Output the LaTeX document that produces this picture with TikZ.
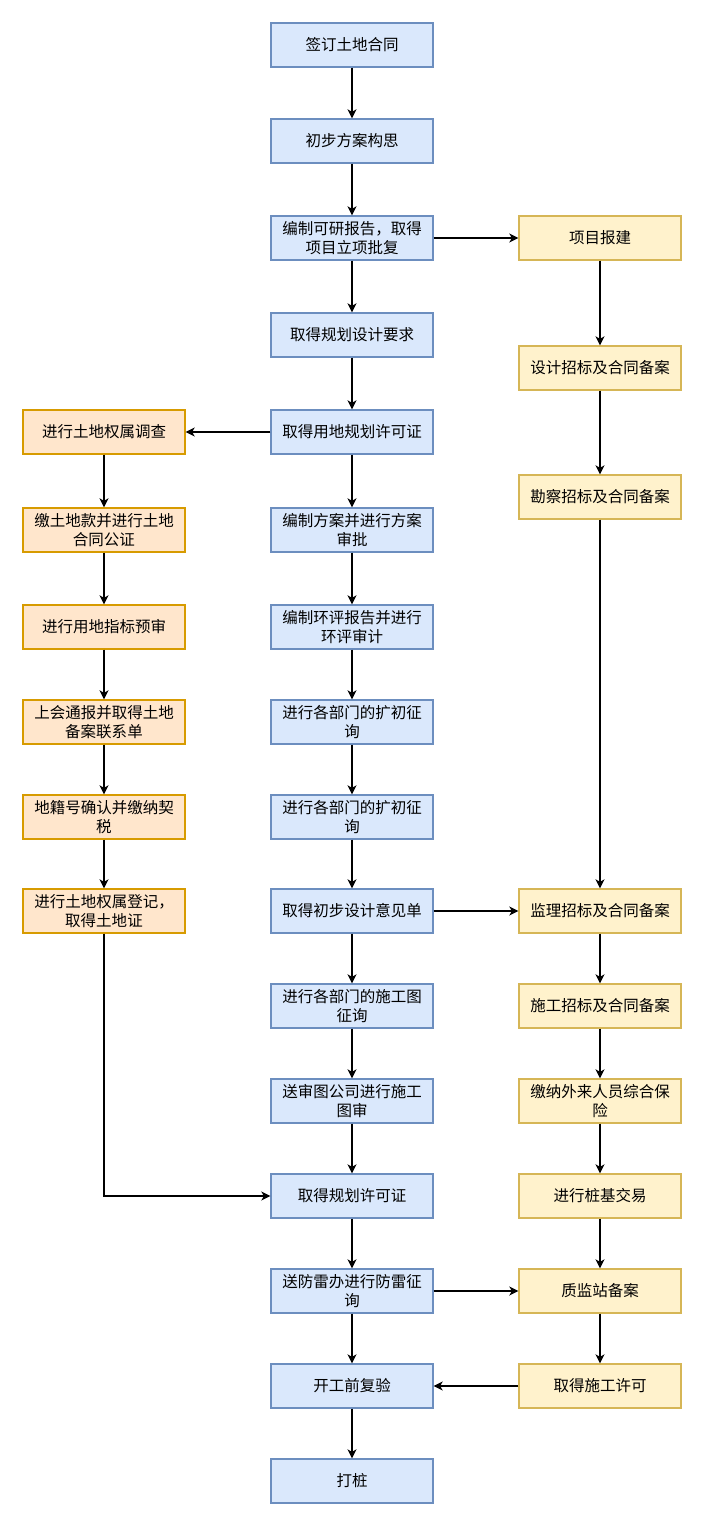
\documentclass[tikz,border=0pt]{standalone}
\usepackage{fontspec}
\setmainfont{Noto Sans CJK SC}
\usetikzlibrary{arrows.meta}
\definecolor{bfill}{HTML}{DAE8FC}
\definecolor{bdraw}{HTML}{6C8EBF}
\definecolor{ofill}{HTML}{FFE6CC}
\definecolor{odraw}{HTML}{D79B00}
\definecolor{yfill}{HTML}{FFF2CC}
\definecolor{ydraw}{HTML}{D6B656}
\begin{document}
\begin{tikzpicture}[x=1pt,y=-1pt,
  basebox/.style={draw, minimum width=162pt, minimum height=44pt, inner sep=0pt, line width=1.3pt, align=center, font=\fontsize{15.5}{19}\selectfont},
  bluebox/.style={basebox, fill=bfill, draw=bdraw},
  orangebox/.style={basebox, fill=ofill, draw=odraw},
  yellowbox/.style={basebox, fill=yfill, draw=ydraw},
  conn/.style={line width=1.6pt, -{Stealth[length=9pt,width=9pt,inset=2.5pt]}}]
\useasboundingbox (0,0) rectangle (703,1525);
% middle column
\node[bluebox] (m1) at (352,45) {签订土地合同};
\node[bluebox] (m2) at (352,141) {初步方案构思};
\node[bluebox] (m3) at (352,238) {编制可研报告，取得\\项目立项批复};
\node[bluebox] (m4) at (352,335) {取得规划设计要求};
\node[bluebox] (m5) at (352,432) {取得用地规划许可证};
\node[bluebox] (m6) at (352,530) {编制方案并进行方案\\审批};
\node[bluebox] (m7) at (352,627) {编制环评报告并进行\\环评审计};
\node[bluebox] (m8) at (352,722) {进行各部门的扩初征\\询};
\node[bluebox] (m9) at (352,817) {进行各部门的扩初征\\询};
\node[bluebox] (m10) at (352,911) {取得初步设计意见单};
\node[bluebox] (m11) at (352,1006) {进行各部门的施工图\\征询};
\node[bluebox] (m12) at (352,1101) {送审图公司进行施工\\图审};
\node[bluebox] (m13) at (352,1196) {取得规划许可证};
\node[bluebox] (m14) at (352,1291) {送防雷办进行防雷征\\询};
\node[bluebox] (m15) at (352,1386) {开工前复验};
\node[bluebox] (m16) at (352,1481) {打桩};
% right column
\node[yellowbox] (r1) at (600,238) {项目报建};
\node[yellowbox] (r2) at (600,368) {设计招标及合同备案};
\node[yellowbox] (r3) at (600,497) {勘察招标及合同备案};
\node[yellowbox] (r4) at (600,911) {监理招标及合同备案};
\node[yellowbox] (r5) at (600,1006) {施工招标及合同备案};
\node[yellowbox] (r6) at (600,1101) {缴纳外来人员综合保\\险};
\node[yellowbox] (r7) at (600,1196) {进行桩基交易};
\node[yellowbox] (r8) at (600,1291) {质监站备案};
\node[yellowbox] (r9) at (600,1386) {取得施工许可};
% left column
\node[orangebox] (l1) at (104,432) {进行土地权属调查};
\node[orangebox] (l2) at (104,530) {缴土地款并进行土地\\合同公证};
\node[orangebox] (l3) at (104,627) {进行用地指标预审};
\node[orangebox] (l4) at (104,722) {上会通报并取得土地\\备案联系单};
\node[orangebox] (l5) at (104,817) {地籍号确认并缴纳契\\税};
\node[orangebox] (l6) at (104,911) {进行土地权属登记，\\取得土地证};
% connectors
\foreach \a/\b in {m1/m2,m2/m3,m3/m4,m4/m5,m5/m6,m6/m7,m7/m8,m8/m9,m9/m10,m10/m11,m11/m12,m12/m13,m13/m14,m14/m15,m15/m16,
  r1/r2,r2/r3,r3/r4,r4/r5,r5/r6,r6/r7,r7/r8,r8/r9,
  l1/l2,l2/l3,l3/l4,l4/l5,l5/l6}
  \draw[conn] (\a) -- (\b);
\draw[conn] (m3) -- (r1);
\draw[conn] (m5) -- (l1);
\draw[conn] (m10) -- (r4);
\draw[conn] (m14) -- (r8);
\draw[conn] (r9) -- (m15);
\draw[conn] (l6.south) |- (m13.west);
\end{tikzpicture}
\end{document}
